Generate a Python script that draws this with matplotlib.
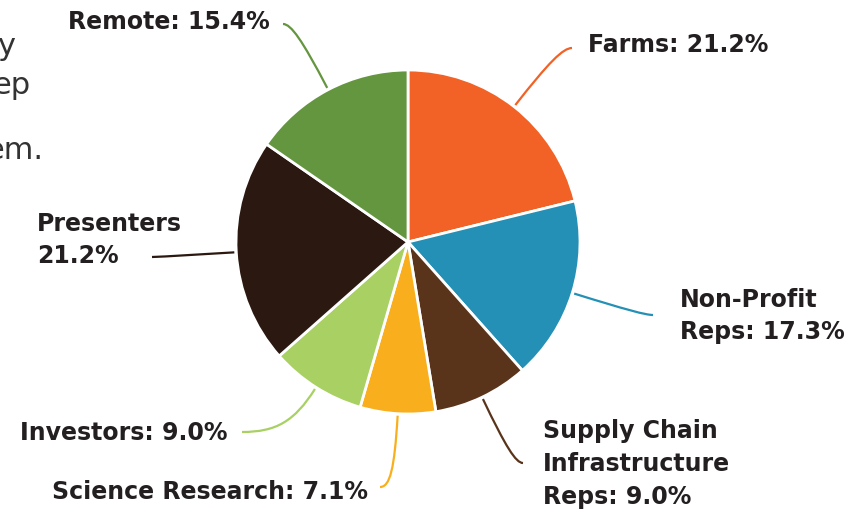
import numpy as np
import matplotlib
matplotlib.use("Agg")
import matplotlib.pyplot as plt
from matplotlib.path import Path
from matplotlib.patches import PathPatch

W, H = 858, 512

labels = ["Farms: 21.2%", "Non-Profit\nReps: 17.3%", "Supply Chain\nInfrastructure\nReps: 9.0%",
          "Science Research: 7.1%", "Investors: 9.0%", "Presenters\n21.2%", "Remote: 15.4%"]
shares = [21.2, 17.3, 9.0, 7.1, 9.0, 21.2, 15.4]
colors = ["#f26125", "#2490b5", "#5a331b", "#f9af1d", "#a8d063", "#2b1810", "#64953f"]

# label layout in pixel coords: text anchor, alignment, leader line end
text_pos = [(588, 45), (680, 316), (543, 464), (368, 492), (228, 433), (37, 240), (270, 22)]
text_ha = ["left", "left", "left", "right", "right", "left", "right"]
line_end = [(572, 48), (653, 315), (523, 463), (380, 487), (242, 432), (152, 257), (283, 24)]

# clipped paragraph text on the left edge
para_text = ["y", "ep", "em."]
para_pos = [(15, 55), (31, 94), (43, 159)]

center_px = (408, 242)
radius = 172


def px(p):
    return p[0], H - p[1]


fig = plt.figure(figsize=(W / 100, H / 100), dpi=100)
ax = fig.add_axes([0, 0, 1, 1])

cx, cy = px(center_px)
wedges, _ = ax.pie(shares, colors=colors, startangle=90, counterclock=False,
                   center=(cx, cy), radius=radius,
                   wedgeprops=dict(edgecolor="white", linewidth=2))
ax.set_xlim(0, W)
ax.set_ylim(0, H)
ax.set_aspect("equal")
ax.axis("off")

txt_color = "#231f20"
for w, lab, tp, ha, end, col in zip(wedges, labels, text_pos, text_ha, line_end, colors):
    mid = np.deg2rad((w.theta1 + w.theta2) / 2)
    u = np.array([np.cos(mid), np.sin(mid)])
    p0 = np.array([cx, cy]) + (radius + 2) * u
    p3 = np.array(px(end))
    # corner where the radial line meets the horizontal through the end point
    c = p0 + u * (p3[1] - p0[1]) / u[1]
    if min(p0[0], p3[0]) <= c[0] <= max(p0[0], p3[0]):
        p1 = p0 + 0.75 * (c - p0)
        p2 = p3 + 0.75 * (c - p3)
    else:
        p1 = p0 + (p3 - p0) / 3
        p2 = p0 + 2 * (p3 - p0) / 3
    path = Path([p0, p1, p2, p3], [Path.MOVETO, Path.CURVE4, Path.CURVE4, Path.CURVE4])
    ax.add_patch(PathPatch(path, facecolor="none", edgecolor=col, lw=1.6))
    tx, ty = px(tp)
    ax.text(tx, ty, lab, ha=ha, va="center", fontsize=17, fontweight="bold",
            color=txt_color, linespacing=1.45, family="DejaVu Sans")

for s, p in zip(para_text, para_pos):
    x, y = px(p)
    ax.text(x, y, s, ha="right", va="baseline", fontsize=22, color="#333333",
            family="DejaVu Sans")

fig.savefig("out.png", dpi=100)
